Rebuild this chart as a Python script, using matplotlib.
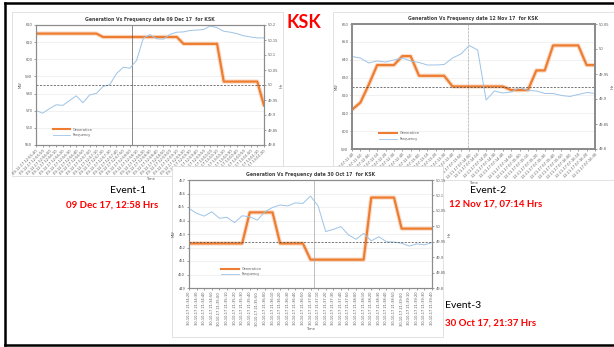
import matplotlib.pyplot as plt
from matplotlib.lines import Line2D
from matplotlib.patches import Rectangle
import numpy as np

W, H = 614, 347

# Event-1 : 09 Dec 17
date1 = "09-12-17"
times1 = ["12:55:40", "12:55:50", "12:56:00", "12:56:10", "12:56:20", "12:56:30", "12:56:40",
          "12:56:50", "12:57:00", "12:57:10", "12:57:20", "12:57:30", "12:57:40", "12:57:50",
          "12:58:00", "12:58:10", "12:58:20", "12:58:30", "12:58:40", "12:58:50", "12:59:00",
          "12:59:10", "12:59:20", "12:59:30", "12:59:40", "12:59:50", "13:00:00", "13:00:10",
          "13:00:20", "13:00:30", "13:00:40", "13:00:50", "13:01:00", "13:01:10", "13:01:20"]
gen1 = [615, 615, 615, 615, 615, 615, 615, 615, 615, 615,
        613, 613, 613, 613, 613, 613, 613, 613, 613, 613, 613, 613,
        609, 609, 609, 609, 609, 609,
        587, 587, 587, 587, 587, 587, 573]
freq1 = [49.915, 49.906, 49.921, 49.934, 49.932, 49.948, 49.964, 49.941, 49.967, 49.972,
         49.995, 50.001, 50.038, 50.059, 50.056, 50.082, 50.156, 50.168, 50.154, 50.153,
         50.169, 50.176, 50.177, 50.182, 50.183, 50.185, 50.197, 50.191, 50.179, 50.176,
         50.171, 50.164, 50.160, 50.157, 50.157]

# Event-2 : 12 Nov 17
date2 = "12-11-17"
times2 = ["07:11:40", "07:11:50", "07:12:00", "07:12:10", "07:12:20", "07:12:30", "07:12:40",
          "07:12:50", "07:13:00", "07:13:10", "07:13:20", "07:13:30", "07:13:40", "07:13:50",
          "07:14:00", "07:14:10", "07:14:20", "07:14:30", "07:14:40", "07:14:50", "07:15:00",
          "07:15:10", "07:15:20", "07:15:30", "07:15:40", "07:15:50", "07:16:00", "07:16:10",
          "07:16:20", "07:16:30"]
gen2 = [612, 616, 626, 637, 637, 637, 642, 642, 631, 631, 631, 631,
        625, 625, 625, 625, 625, 625, 625, 623, 623, 623, 634, 634,
        648, 648, 648, 648, 637, 637]
freq2 = [49.985, 49.982, 49.972, 49.976, 49.974, 49.978, 49.982, 49.976, 49.973, 49.968,
         49.968, 49.969, 49.982, 49.990, 50.007, 49.998, 49.898, 49.916, 49.912, 49.914,
         49.923, 49.917, 49.916, 49.911, 49.911, 49.907, 49.905, 49.909, 49.913, 49.911]

# Event-3 : 30 Oct 17
date3 = "30-10-17"
times3 = ["21:34:20", "21:34:30", "21:34:40", "21:34:50", "21:35:00", "21:35:10", "21:35:20",
          "21:35:30", "21:35:40", "21:35:50", "21:36:00", "21:36:10", "21:36:20", "21:36:30",
          "21:36:40", "21:36:50", "21:37:00", "21:37:10", "21:37:20", "21:37:30", "21:37:40",
          "21:37:50", "21:38:00", "21:38:10", "21:38:20", "21:38:30", "21:38:40", "21:38:50",
          "21:39:00", "21:39:10", "21:39:20", "21:39:30", "21:39:40"]
gen3 = [452.3, 452.3, 452.3, 452.3, 452.3, 452.3, 452.3, 452.3,
        454.6, 454.6, 454.6, 454.6,
        452.3, 452.3, 452.3, 452.3,
        451.1, 451.1, 451.1, 451.1, 451.1, 451.1, 451.1, 451.1,
        455.7, 455.7, 455.7, 455.7,
        453.4, 453.4, 453.4, 453.4, 453.4]
freq3 = [50.058, 50.042, 50.033, 50.047, 50.026, 50.029, 50.012, 50.034, 50.031, 50.020,
         50.047, 50.061, 50.069, 50.066, 50.076, 50.074, 50.098, 50.066, 49.983, 49.990,
         49.999, 49.972, 49.958, 49.977, 49.953, 49.966, 49.950, 49.949, 49.945, 49.936,
         49.943, 49.940, 49.947]

gen_ticks1 = [550, 560, 570, 580, 590, 600, 610, 620]
hz_ticks1 = [49.8, 49.85, 49.9, 49.95, 50, 50.05, 50.1, 50.15, 50.2]
gen_ticks2 = [590, 600, 610, 620, 630, 640, 650, 660]
hz_ticks2 = [49.8, 49.85, 49.9, 49.95, 50, 50.05]
gen_ticks3 = [449, 450, 451, 452, 453, 454, 455, 456, 457]
hz_ticks3 = [49.8, 49.85, 49.9, 49.95, 50, 50.05, 50.1, 50.15]

ORANGE = '#ED7D31'
BLUE = '#9DC3E6'
GREY = '#595959'


def fig_box(l, t, r, b):
    return [l / W, 1 - b / H, (r - l) / W, (b - t) / H]


def picture(fig, l, t, r, b, z):
    fig.add_artist(Rectangle((l / W, 1 - b / H), (r - l) / W, (b - t) / H,
                             transform=fig.transFigure, facecolor='white',
                             edgecolor='#d6d6d6', lw=0.5, zorder=z))


def chart(fig, box, z, title, date, times, gen, freq, gticks, hticks, ref_hz, event_x,
          event_style, rot, leg_pos, frame_lw):
    ax = fig.add_axes(fig_box(*box))
    ax.set_zorder(z)
    axr = ax.twinx()
    axr.set_zorder(z + 0.1)
    x = np.arange(len(times))

    ax.plot(x, gen, color=ORANGE, lw=3.2, alpha=0.25, solid_capstyle='butt')
    ax.plot(x, gen, color=ORANGE, lw=1.6)
    axr.plot(x, freq, color=BLUE, lw=0.7)
    axr.axhline(ref_hz, color='#404040', lw=0.5, ls=(0, (3, 2)))
    ax.axvline(event_x, lw=0.5, **event_style)

    ax.set_xlim(0, len(times) - 1)
    ax.set_ylim(gticks[0], gticks[-1])
    axr.set_ylim(hticks[0], hticks[-1])
    ax.set_yticks(gticks)
    axr.set_yticks(hticks)
    axr.set_yticklabels([f"{v:g}" for v in hticks])
    ax.set_xticks(x)
    if rot == 90:
        ax.set_xticklabels([date + " " + t for t in times], rotation=90)
    else:
        ax.set_xticklabels([date + " " + t for t in times], rotation=rot, ha='right',
                           rotation_mode='anchor')
    ax.yaxis.grid(True, color='#e6e6e6', lw=0.4)
    ax.set_axisbelow(True)

    for a in (ax, axr):
        a.tick_params(labelsize=2.6, colors=GREY, length=1.2, width=0.4, pad=1.5)
        for s in a.spines.values():
            s.set_color('#8c8c8c')
            s.set_linewidth(frame_lw)

    ax.set_title(title, fontsize=3.3, fontweight='bold', color='#404040', pad=3)
    ax.set_ylabel('MW', fontsize=2.6, color=GREY, labelpad=2)
    axr.set_ylabel('Hz', fontsize=3, color=GREY, labelpad=1)
    ax.set_xlabel('Time', fontsize=2.6, color=GREY, labelpad=1)

    handles = [Line2D([], [], color=ORANGE, lw=1.5), Line2D([], [], color=BLUE, lw=0.6)]
    axr.legend(handles, ['Generation', 'Frequency'], loc='lower left', bbox_to_anchor=leg_pos,
               frameon=False, fontsize=2.5, handlelength=5, labelcolor=GREY,
               labelspacing=0.4)


fig = plt.figure(figsize=(W / 100, H / 100), dpi=100)

picture(fig, 12, 12, 283, 176, 1)
chart(fig, (36, 25, 264, 145), 2, "Generation Vs Frequency date 09 Dec 17  for KSK",
      date1, times1, gen1, freq1, gen_ticks1, hz_ticks1, 50.0, 14.3,
      dict(color='#595959', ls='-'), 45, (0.06, 0.04), 0.8)

picture(fig, 333, 12, 616, 180, 3)
chart(fig, (352, 24, 595, 149), 4, "Generation Vs Frequency date 12 Nov 17  for KSK",
      date2, times2, gen2, freq2, gen_ticks2, hz_ticks2, 49.925, 13.9,
      dict(color='#7f7f7f', ls=(0, (1, 1))), 45, (0.1, 0.04), 1.3)

picture(fig, 172, 166, 443, 337, 5)
chart(fig, (189, 180, 432, 288), 6, "Generation Vs Frequency date 30 Oct 17  for KSK",
      date3, times3, gen3, freq3, gen_ticks3, hz_ticks3, 49.95, 16.4,
      dict(color='#a6a6a6', ls='-'), 90, (0.12, 0.08), 0.8)

# slide frame
frame = dict(color='black', lw=1.8, transform=fig.transFigure, zorder=20)
fig.add_artist(Line2D([5 / W, 1], [1 - 3 / H, 1 - 3 / H], **frame))
fig.add_artist(Line2D([5 / W, 1], [1 - 345 / H, 1 - 345 / H], **frame))
fig.add_artist(Line2D([5 / W, 5 / W], [1 - 3 / H, 1 - 345 / H], **frame))

fig.text(304 / W, 1 - 22 / H, 'KSK', color='red', fontsize=13, fontweight='bold',
         family='Lato', ha='center', va='center', zorder=20)

notes = [("Event-1", 110, 190.5, 'black', 'normal', 7.5),
         ("09 Dec 17, 12:58 Hrs", 66, 205, 'red', 'bold', 7),
         ("Event-2", 470, 190.5, 'black', 'normal', 7.5),
         ("12 Nov 17, 07:14 Hrs", 449, 204, 'red', 'bold', 7),
         ("Event-3", 445, 305, 'black', 'normal', 7.5),
         ("30 Oct 17, 21:37 Hrs", 445, 323, 'red', 'bold', 7)]
for txt, tx, ty, col, wt, fs in notes:
    fig.text(tx / W, 1 - ty / H, txt, color=col, fontweight=wt, fontsize=fs, family='Lato',
             ha='left', va='center', zorder=20)

fig.savefig('out.png', dpi=100)
